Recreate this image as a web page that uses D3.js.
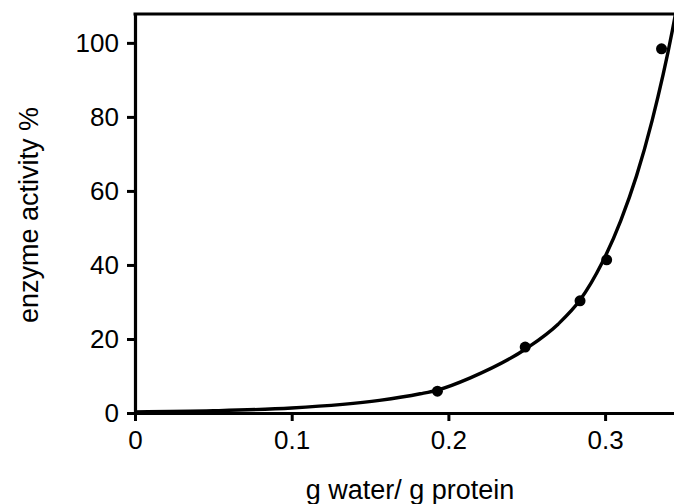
<!DOCTYPE html>
<html>
<head>
<meta charset="utf-8">
<script src="https://cdn.jsdelivr.net/npm/d3@7"></script>
<style>
  body { margin: 0; background: #fff; }
  svg { display: block; font-family: "Liberation Sans", Arial, sans-serif; }
</style>
</head>
<body>
<div id="chart"></div>
<script>
// measured points (g water / g protein, enzyme activity %)
const pointX = [0.193, 0.249, 0.284, 0.301, 0.336];
const pointY = [5.9, 17.8, 30.3, 41.4, 98.4];

// fitted curve
const curveX = [0, 0.05, 0.1, 0.156, 0.182, 0.193, 0.214, 0.25, 0.27, 0.284, 0.298, 0.31, 0.32, 0.33, 0.343, 0.35];
const curveY = [0.3, 0.6, 1.35, 3.4, 5.2, 6.2, 9.5, 17.5, 24, 30.5, 40.5, 52, 64, 79, 103.5, 120];

const xTicks = [0, 0.1, 0.2, 0.3];
const yTicks = [0, 20, 40, 60, 80, 100];

const width = 674, height = 504;
const plotLeft = 135, plotTop = 14, plotBottom = 413;

const svg = d3.select("#chart").append("svg")
    .attr("width", width)
    .attr("height", height);

// Scales (plot runs past the right edge of the picture)
const x = d3.scaleLinear().domain([0, 0.36]).range([plotLeft, plotLeft + 0.36 * 1567]);
const y = d3.scaleLinear().domain([0, 107.8]).range([plotBottom, plotTop]);

svg.append("clipPath").attr("id", "plot")
    .append("rect")
    .attr("x", plotLeft).attr("y", plotTop)
    .attr("width", x(0.36) - plotLeft).attr("height", plotBottom - plotTop);

// Top border
svg.append("line")
    .attr("x1", plotLeft - 1.5).attr("x2", x(0.36))
    .attr("y1", plotTop).attr("y2", plotTop)
    .attr("stroke", "#000").attr("stroke-width", 3);

// Axes
const xAxis = svg.append("g")
    .attr("transform", `translate(0,${plotBottom})`)
    .call(d3.axisBottom(x).tickValues(xTicks).tickSize(8).tickSizeOuter(0).tickPadding(10)
        .tickFormat(d => d === 0 ? "0" : d3.format(".1f")(d)));

const yAxis = svg.append("g")
    .attr("transform", `translate(${plotLeft},0)`)
    .call(d3.axisLeft(y).tickValues(yTicks).tickSize(8).tickSizeOuter(0).tickPadding(8));

[xAxis, yAxis].forEach(g => {
    g.select(".domain").attr("stroke-width", 3.2);
    g.selectAll(".tick line").attr("stroke-width", 3);
    g.selectAll(".tick text")
        .attr("font-size", 26)
        .attr("font-family", "Liberation Sans, Arial, sans-serif")
        .attr("fill", "#000");
});

// Curve
const curveData = curveX.map((d, i) => [d, curveY[i]]);
svg.append("path")
    .datum(curveData)
    .attr("clip-path", "url(#plot)")
    .attr("fill", "none")
    .attr("stroke", "#000")
    .attr("stroke-width", 3.4)
    .attr("d", d3.line().x(d => x(d[0])).y(d => y(d[1])).curve(d3.curveMonotoneX));

// Points
svg.selectAll("circle.pt")
    .data(pointX.map((d, i) => [d, pointY[i]]))
    .enter()
    .append("circle")
    .attr("class", "pt")
    .attr("cx", d => x(d[0]))
    .attr("cy", d => y(d[1]))
    .attr("r", 5.5)
    .attr("fill", "#000");

// Axis titles
svg.append("text")
    .attr("x", 410).attr("y", 499)
    .attr("text-anchor", "middle")
    .attr("font-size", 27)
    .text("g water/ g protein");

svg.append("text")
    .attr("transform", `translate(38,215) rotate(-90)`)
    .attr("text-anchor", "middle")
    .attr("font-size", 27)
    .text("enzyme activity %");
</script>
</body>
</html>
